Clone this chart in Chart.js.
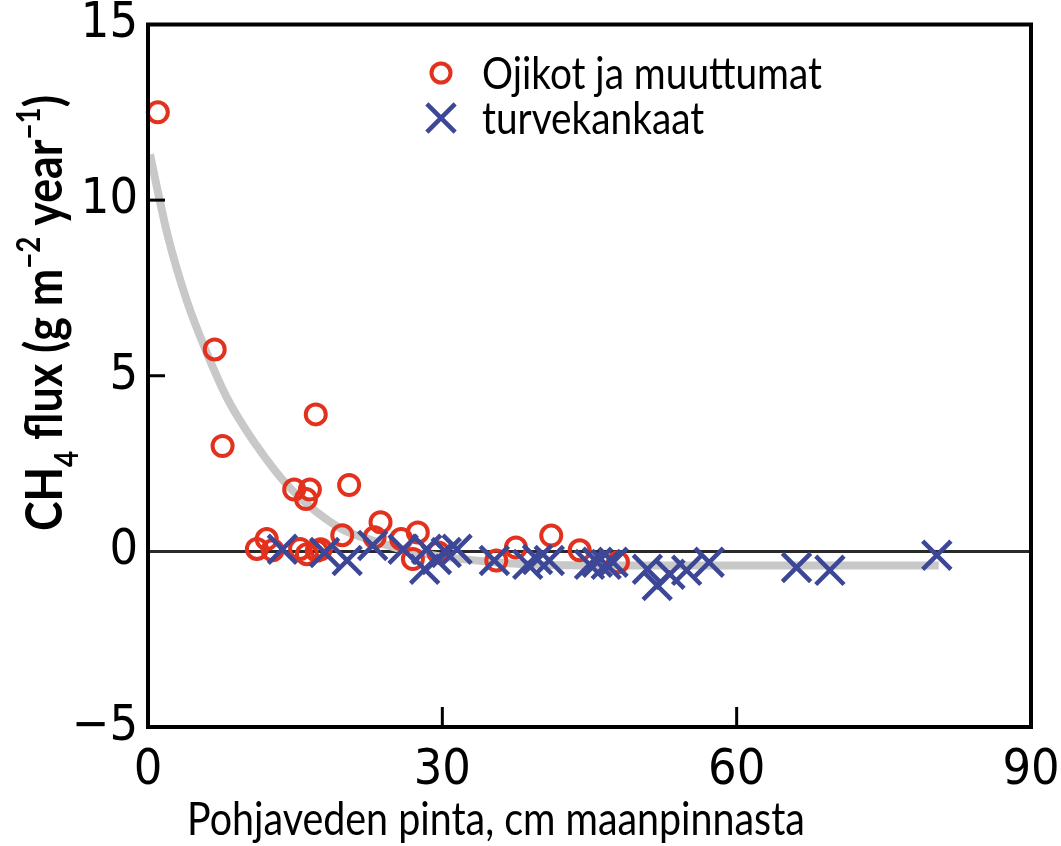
<!DOCTYPE html>
<html>
<head>
<meta charset="utf-8">
<script src="https://cdn.jsdelivr.net/npm/chart.js@4/dist/chart.umd.min.js"></script>
<style>
  body { margin: 0; background: #fff; }
  canvas { display: block; }
</style>
</head>
<body>
<canvas id="chart" width="1061" height="846"></canvas>
<script>
// Ojikot ja muuttumat (red circles)
const ojikotX = [1.0, 6.8, 7.6, 17.1, 14.9, 16.5, 16.1, 20.5, 23.7, 19.8, 23.1, 25.8, 27.5, 27.0, 12.1, 11.1, 12.7, 15.5, 16.2, 17.2, 17.6, 29.6, 35.5, 37.5, 41.1, 44.0, 47.9];
const ojikotY = [12.5, 5.75, 3.0, 3.9, 1.76, 1.76, 1.49, 1.89, 0.83, 0.46, 0.40, 0.35, 0.54, -0.22, 0.35, 0.07, 0.03, 0.07, -0.08, 0.02, 0.06, -0.03, -0.26, 0.11, 0.45, 0.03, -0.31];

// turvekankaat (blue crosses)
const turveX = [13.7, 18.0, 20.3, 22.9, 26.0, 28.4, 28.2, 29.4, 30.4, 31.5, 35.3, 38.7, 39.7, 40.9, 45.0, 45.8, 46.7, 47.4, 50.9, 51.9, 53.2, 54.9, 57.2, 66.1, 69.5, 80.4];
const turveY = [0.06, -0.03, -0.26, 0.17, 0.06, 0.06, -0.51, -0.23, -0.03, 0.06, -0.26, -0.37, -0.23, -0.26, -0.37, -0.31, -0.37, -0.31, -0.51, -0.97, -0.65, -0.54, -0.31, -0.46, -0.54, -0.11];

// fitted curve (grey)
const fitX = [0.2, 2, 4, 6, 8, 10, 12, 14, 16, 18, 20, 23, 26, 30, 35, 40, 48, 60, 80.6];
const fitY = [11.3, 9.0, 7.1, 5.65, 4.4, 3.45, 2.65, 1.95, 1.4, 0.95, 0.6, 0.3, 0.05, -0.15, -0.3, -0.38, -0.4, -0.4, -0.4];

const xTicks = [0, 30, 60, 90];
const yTicks = [-5, 0, 5, 10, 15];

const toPoints = (xs, ys) => xs.map((x, i) => ({ x: x, y: ys[i] }));

const RED = '#e2311d';
const BLUE = '#3d4797';
const tickFont = '"Liberation Sans Narrow", "DejaVu Sans Condensed", sans-serif';
const textFont = 'Lato, "Open Sans", sans-serif';
const SQUEEZE = 0.86; // narrower text like the original

// draws text squeezed horizontally so that it is exactly `width` wide
function fitText(ctx, text, font, width, x, y, align) {
  ctx.save();
  ctx.font = '40px ' + font;
  const size = 40 * width / (ctx.measureText(text).width * SQUEEZE);
  ctx.font = size + 'px ' + font;
  ctx.translate(x, y);
  ctx.scale(SQUEEZE, 1);
  ctx.textAlign = align;
  ctx.fillText(text, 0, 0);
  ctx.restore();
}

// frame, inner ticks, zero line, titles, legend
const decorations = {
  id: 'decorations',
  beforeDatasetsDraw(chart) {
    const { ctx, chartArea: a, scales } = chart;
    const y0 = scales.y.getPixelForValue(0);
    ctx.save();
    ctx.strokeStyle = '#2a2a2a';
    ctx.lineWidth = 3;
    ctx.beginPath();
    ctx.moveTo(a.left, y0);
    ctx.lineTo(a.right, y0);
    ctx.stroke();
    ctx.restore();
  },
  afterDatasetsDraw(chart) {
    const { ctx, chartArea: a, scales } = chart;
    ctx.save();
    ctx.strokeStyle = '#000';
    ctx.lineWidth = 4;
    ctx.strokeRect(a.left, a.top, a.right - a.left, a.bottom - a.top);

    ctx.lineWidth = 3;
    [5, 10].forEach(v => {
      const y = scales.y.getPixelForValue(v);
      ctx.beginPath();
      ctx.moveTo(a.left, y);
      ctx.lineTo(a.left + 17, y);
      ctx.stroke();
    });
    [30, 60].forEach(v => {
      const x = scales.x.getPixelForValue(v);
      ctx.beginPath();
      ctx.moveTo(x, a.bottom);
      ctx.lineTo(x, a.bottom - 20);
      ctx.stroke();
    });

    // x title
    ctx.fillStyle = '#000';
    ctx.textBaseline = 'alphabetic';
    fitText(ctx, 'Pohjaveden pinta, cm maanpinnasta', textFont, 618, 496, 835, 'center');

    // y title with sub/superscripts
    const parts = [
      { t: 'CH', k: 0 }, { t: '4', k: 1 }, { t: ' flux (g m', k: 0 },
      { t: '\u22122', k: 2 }, { t: ' year', k: 0 }, { t: '\u22121', k: 2 }, { t: ')', k: 0 }
    ];
    const measure = size => parts.reduce((w, p) => {
      ctx.font = 'bold ' + (p.k ? size * 0.62 : size) + 'px ' + textFont;
      return w + ctx.measureText(p.t).width;
    }, 0);
    const ys = 44 * 436 / (measure(44) * SQUEEZE);
    const total = measure(ys);
    ctx.translate(62, 313);
    ctx.rotate(-Math.PI / 2);
    ctx.scale(SQUEEZE, 1);
    ctx.textAlign = 'left';
    let cx = -total / 2;
    parts.forEach(p => {
      const size = p.k ? ys * 0.62 : ys;
      ctx.font = 'bold ' + size + 'px ' + textFont;
      const dy = p.k === 1 ? ys * 0.3 : p.k === 2 ? -ys * 0.42 : 0;
      ctx.fillText(p.t, cx, dy);
      cx += ctx.measureText(p.t).width;
    });
    ctx.restore();

    // legend
    ctx.save();
    const items = [
      { label: chart.data.datasets[0].label, style: 'circle', r: 9.5, color: RED, w: 4, y: 73 },
      { label: chart.data.datasets[1].label, style: 'crossRot', r: 20, color: BLUE, w: 4.5, y: 118 }
    ];
    ctx.font = '40px ' + textFont;
    const lw = 340 / ctx.measureText(items[0].label).width;
    items.forEach(it => {
      ctx.strokeStyle = it.color;
      ctx.fillStyle = 'rgba(0,0,0,0)';
      ctx.lineWidth = it.w;
      Chart.helpers.drawPoint(ctx, { pointStyle: it.style, radius: it.r, rotation: 0, borderWidth: it.w }, 441, it.y);
      ctx.fillStyle = '#000';
      ctx.textBaseline = 'middle';
      ctx.font = '40px ' + textFont;
      const w = ctx.measureText(it.label).width * lw;
      fitText(ctx, it.label, textFont, w, 482, it.y + 1, 'left');
    });
    ctx.restore();
  }
};

new Chart(document.getElementById('chart'), {
  type: 'scatter',
  data: {
    datasets: [
      {
        label: 'Ojikot ja muuttumat',
        data: toPoints(ojikotX, ojikotY),
        pointStyle: 'circle',
        pointRadius: 10,
        pointBorderWidth: 4,
        borderColor: RED,
        backgroundColor: 'rgba(0,0,0,0)',
        clip: false,
        order: 2
      },
      {
        label: 'turvekankaat',
        data: toPoints(turveX, turveY),
        pointStyle: 'crossRot',
        pointRadius: 20,
        pointBorderWidth: 4.5,
        borderColor: BLUE,
        backgroundColor: BLUE,
        clip: false,
        order: 1
      },
      {
        label: 'fit',
        type: 'line',
        data: toPoints(fitX, fitY),
        borderColor: '#c8c8c8',
        borderWidth: 8,
        pointRadius: 0,
        cubicInterpolationMode: 'monotone',
        fill: false,
        order: 3
      }
    ]
  },
  options: {
    responsive: false,
    animation: false,
    layout: { padding: { top: 24, right: 30, left: 0, bottom: 0 } },
    plugins: {
      legend: { display: false },
      tooltip: { enabled: false }
    },
    scales: {
      x: {
        type: 'linear',
        min: 0,
        max: 90,
        afterBuildTicks: axis => { axis.ticks = xTicks.map(v => ({ value: v })); },
        afterFit: axis => { axis.height = 119; axis.paddingLeft = 0; axis.paddingRight = 0; },
        grid: { display: false, drawTicks: false },
        border: { display: false },
        ticks: {
          color: '#000',
          padding: 14,
          maxRotation: 0,
          font: { family: tickFont, size: 50 }
        }
      },
      y: {
        type: 'linear',
        min: -5,
        max: 15,
        afterBuildTicks: axis => { axis.ticks = yTicks.map(v => ({ value: v })); },
        afterFit: axis => { axis.width = 148; axis.paddingTop = 0; axis.paddingBottom = 0; },
        grid: { display: false, drawTicks: false },
        border: { display: false },
        ticks: {
          color: '#000',
          padding: 10,
          font: { family: tickFont, size: 50 },
          callback: v => v < 0 ? '\u2212' + Math.abs(v) : String(v)
        }
      }
    }
  },
  plugins: [decorations]
});
</script>
</body>
</html>
